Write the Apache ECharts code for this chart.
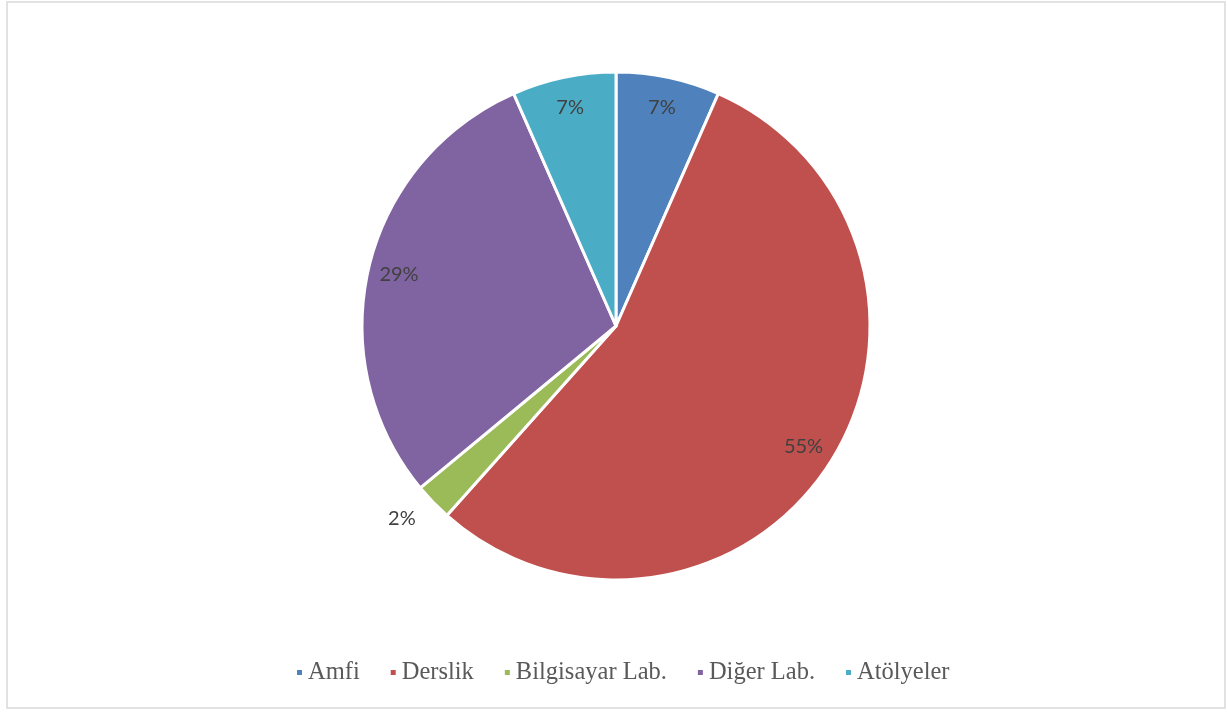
<!DOCTYPE html>
<html>
<head>
<meta charset="utf-8">
<script src="https://cdn.jsdelivr.net/npm/echarts@6/dist/echarts.min.js"></script>
<style>
  html, body { margin: 0; padding: 0; background: #fff; }
  #chart { width: 1227px; height: 713px; }
</style>
</head>
<body>
<div id="chart"></div>
<script>
const categories = ['Amfi', 'Derslik', 'Bilgisayar Lab.', 'Diğer Lab.', 'Atölyeler']
const values = [6.6, 55.0, 2.4, 29.4, 6.6]
const colors = ['#4F81BD', '#C0504D', '#9BBB59', '#8064A2', '#4BACC6']
// slices whose label sits outside the pie
const outsideLabels = ['Bilgisayar Lab.']

const chart = echarts.init(document.getElementById('chart'))

const pct = p => Math.round(p.percent) + '%'
const labelFont = { fontFamily: 'Lato, "Liberation Sans", sans-serif', fontSize: 20, color: '#404040' }

const option = {
  color: colors,
  animation: false,
  graphic: [{
    type: 'rect',
    shape: { x: 7, y: 2, width: 1218, height: 706 },
    style: { fill: 'none', stroke: '#d9d9d9', lineWidth: 1.5 },
    silent: true
  }],
  legend: {
    data: categories,
    bottom: 23,
    left: 290,
    itemWidth: 7,
    itemHeight: 7,
    itemGap: 29,
    icon: 'rect',
    textStyle: { fontFamily: '"Liberation Serif", serif', fontSize: 24.5, color: '#595959' },
    selectedMode: false
  },
  series: [
    {
      // main pie, only the small slice labelled outside
      type: 'pie',
      center: [616, 326],
      radius: [0, 254],
      startAngle: 90,
      clockwise: true,
      silent: true,
      itemStyle: { borderColor: '#fff', borderWidth: 3 },
      label: { show: false },
      labelLine: { show: false },
      data: categories.map((name, i) => ({
        name,
        value: values[i],
        label: outsideLabels.includes(name)
          ? Object.assign({ show: true, position: 'outside', formatter: pct, distanceToLabelLine: 0 }, labelFont)
          : { show: false },
        labelLine: { show: true, length: 24, length2: 0, lineStyle: { opacity: 0 } }
      }))
    },
    {
      // transparent ring to place inside labels near the edge
      type: 'pie',
      center: [616, 326],
      radius: [186, 254],
      startAngle: 90,
      clockwise: true,
      silent: true,
      itemStyle: { color: 'rgba(0,0,0,0)' },
      labelLine: { show: false },
      data: categories.map((name, i) => ({
        name,
        value: values[i],
        label: outsideLabels.includes(name)
          ? { show: false }
          : Object.assign({ show: true, position: 'inside', formatter: pct }, labelFont)
      }))
    }
  ]
}

chart.setOption(option)
</script>
</body>
</html>
